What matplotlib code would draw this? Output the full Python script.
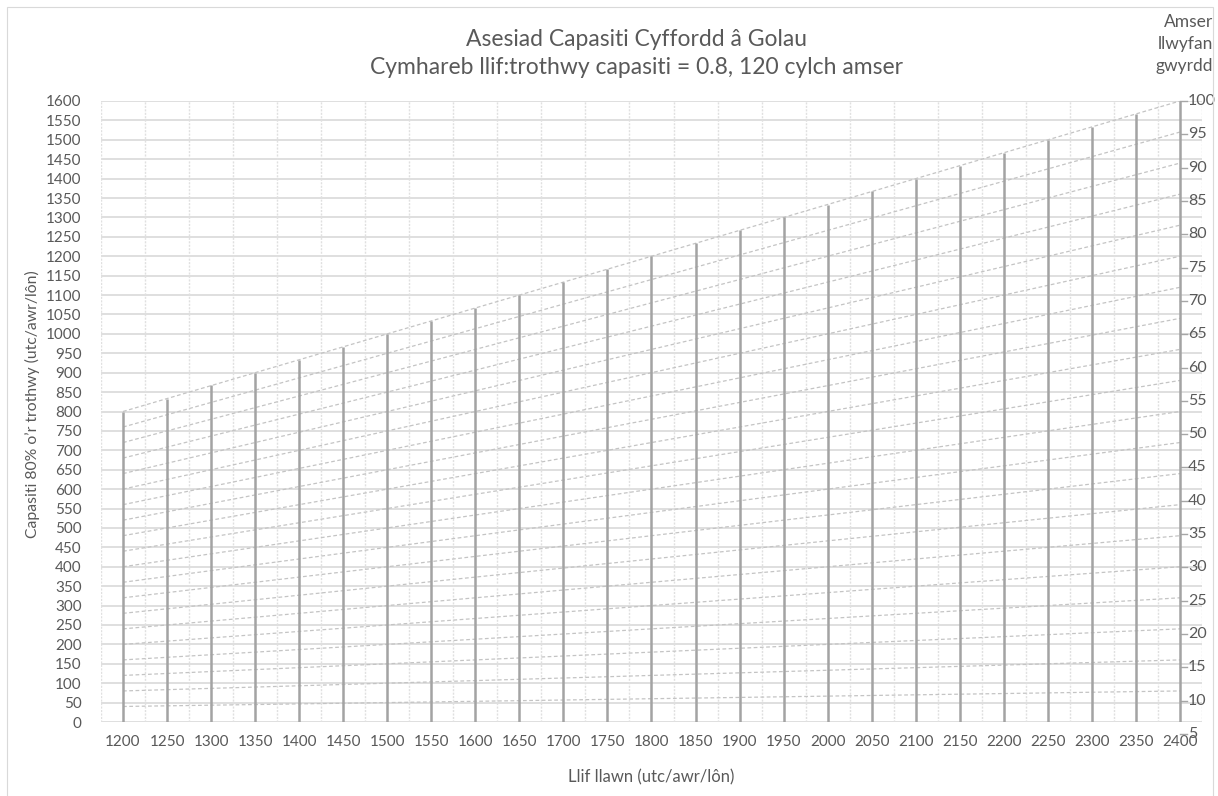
import matplotlib.pyplot as plt
from matplotlib import transforms
from matplotlib.patches import Rectangle

plt.rcParams['font.family'] = ['Lato', 'DejaVu Sans']

# Full flow values (x axis) and the 80% capacity at 100 s of green for each
flows = [1200, 1250, 1300, 1350, 1400, 1450, 1500, 1550, 1600, 1650, 1700, 1750, 1800,
         1850, 1900, 1950, 2000, 2050, 2100, 2150, 2200, 2250, 2300, 2350, 2400]
capacity_tops = [800, 833, 867, 900, 933, 967, 1000, 1033, 1067, 1100, 1133, 1167, 1200,
                 1233, 1267, 1300, 1333, 1367, 1400, 1433, 1467, 1500, 1533, 1567, 1600]

# Green time lines: capacity at flow 1200 and at flow 2400
green_times = [5, 10, 15, 20, 25, 30, 35, 40, 45, 50, 55, 60, 65, 70, 75, 80, 85, 90, 95, 100]
green_start = [40, 80, 120, 160, 200, 240, 280, 320, 360, 400, 440, 480, 520, 560, 600,
               640, 680, 720, 760, 800]
green_end = [80, 160, 240, 320, 400, 480, 560, 640, 720, 800, 880, 960, 1040, 1120, 1200,
             1280, 1360, 1440, 1520, 1600]

x_ticks = list(range(1200, 2401, 50))
y_ticks = list(range(0, 1601, 50))
grid_x = list(range(1175, 2426, 50))

txt = '#595959'
grid_col = '#d9d9d9'

fig = plt.figure(figsize=(12.18, 7.96), dpi=100)
fig.patches.append(Rectangle((7 / 1218, -0.01), 1206 / 1218, 1 - 7 / 796 + 0.01,
                             transform=fig.transFigure, fill=False,
                             edgecolor=grid_col, lw=0.8))

ax = fig.add_axes([101 / 1218, 1 - 722 / 796, 1101 / 1218, 621 / 796])
ax.set_xlim(1175, 2425)
ax.set_ylim(0, 1600)

for s in ax.spines.values():
    s.set_visible(False)

# gridlines
for y in y_ticks:
    ax.axhline(y, color=grid_col, lw=1.2, zorder=0)
for x in grid_x:
    ax.axvline(x, color='#e0e0e0', lw=1.0, ls=(0, (1.5, 1)), zorder=0)

# green time dashed lines
for s, e in zip(green_start, green_end):
    ax.plot([flows[0], flows[-1]], [s, e], color='#c4c4c4', lw=0.9,
            ls=(0, (3, 2)), zorder=2)

# capacity bars
ax.vlines(flows, 0, capacity_tops, color='#a3a3a3', lw=1.8, zorder=3)

ax.set_xticks(x_ticks)
ax.set_yticks(y_ticks)
ax.tick_params(length=0, labelsize=11, colors=txt, pad=9)
ax.tick_params(axis='y', pad=14)

ax.set_xlabel('Llif llawn (utc/awr/lôn)', fontsize=12, color=txt)
ax.set_ylabel('Capasiti 80% o’r trothwy (utc/awr/lôn)', fontsize=11.3, color=txt)
ax.xaxis.set_label_coords(0.5, -0.076)
ax.yaxis.set_label_coords(-0.055, 0.512)

# green time scale on the right, ticked at flow 2400
ax2 = ax.twinx()
ax2.set_ylim(6.8, 100)
ax2.axis('off')
tr = transforms.blended_transform_factory(ax.transData, ax2.transData)
for g in green_times:
    ax.plot([2400, 2408], [g, g], color='#a6a6a6', lw=1, transform=tr, clip_on=False)
    ax.text(2409, g, str(g), transform=tr, fontsize=11.5, color=txt,
            ha='left', va='center', clip_on=False)

fig.text(1213 / 1218, 1 - 44 / 796, 'Amser\nllwyfan\ngwyrdd', ha='right', va='center',
         fontsize=12.5, color=txt, linespacing=1.45, transform=fig.transFigure)
fig.text(637 / 1218, 1 - 39 / 796, 'Asesiad Capasiti Cyffordd â Golau',
         ha='center', va='center', fontsize=16.5, color=txt)
fig.text(637 / 1218, 1 - 68 / 796,
         'Cymhareb llif:trothwy capasiti = 0.8, 120 cylch amser',
         ha='center', va='center', fontsize=16.5, color=txt)

fig.savefig('out.png', dpi=100)
